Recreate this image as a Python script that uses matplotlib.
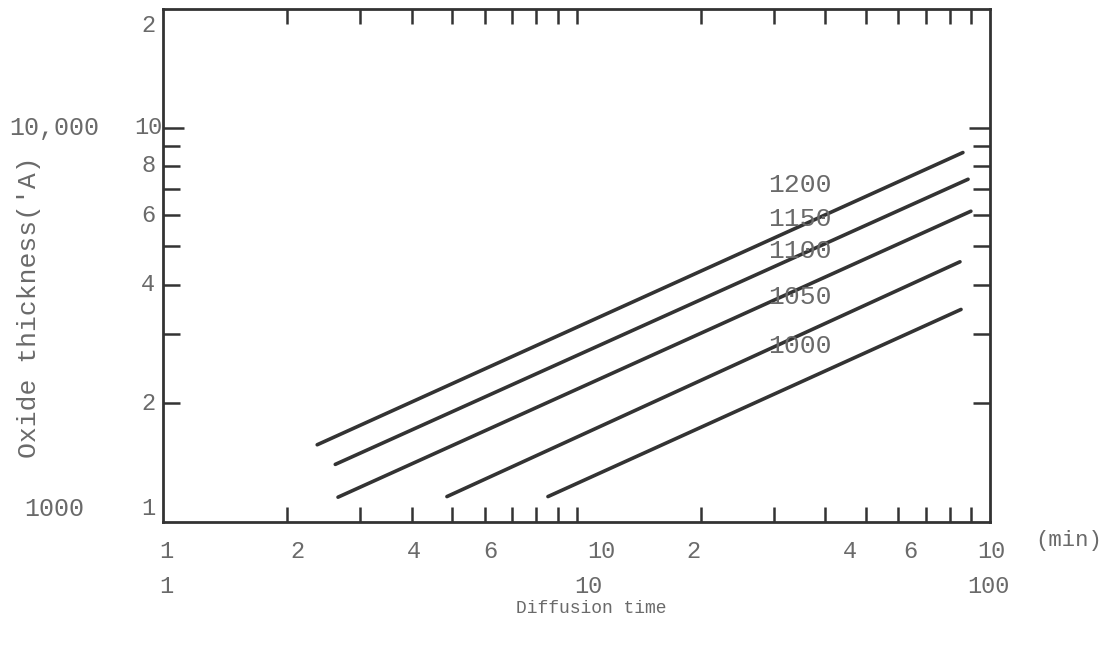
import matplotlib
matplotlib.use("Agg")
import matplotlib.pyplot as plt
from matplotlib.ticker import FixedLocator, NullFormatter
import matplotlib.transforms as mtransforms

# ---------------- data ----------------
temps = ['1200', '1150', '1100', '1050', '1000']          # furnace temperature (C)
time_start = [2.36, 2.61, 2.65, 4.86, 8.53]               # min
time_end = [86.0, 88.5, 89.9, 84.6, 85.1]                 # min
thick_start = [1.57, 1.40, 1.156, 1.16, 1.16]             # x1000 A
thick_end = [8.65, 7.40, 6.14, 4.57, 3.46]                # x1000 A

x_tick_vals = [2, 3, 4, 5, 6, 7, 8, 9, 10, 20, 30, 40, 50, 60, 70, 80, 90]
y_tick_vals = [2, 3, 4, 5, 6, 7, 8, 9]
x_labels_row1 = ['1', '2', '4', '6', '10', '2', '4', '6', '10']
x_labels_row2 = ['1', '10', '100']
y_labels = ['2', '10', '8', '6', '4', '2', '1']
y_labels_outer = ['10,000', '1000']

# ---------------- layout (label placement as typed on the original) -------
x_row1_pos = [1.017, 2.11, 4.05, 6.18, 11.47, 19.13, 45.9, 64.0, 100.6]
x_row2_pos = [1.02, 10.7, 98.9]
y_label_pos = [18.2, 10, 8, 6, 4, 2, 1.08]
y_outer_pos = [10, 1.08]
curve_label_x = 34.6
curve_label_y = [7.15, 5.87, 4.87, 3.71, 2.79]

font = ['Liberation Mono', 'DejaVu Sans Mono']
text_color = '#6a6a6a'
ink = '#333333'

fig = plt.figure(figsize=(11.12, 6.51), dpi=100)
fig.patch.set_facecolor('white')
ax = fig.add_axes([163 / 1112, 129 / 651, 827 / 1112, 513 / 651])
ax.set_xscale('log')
ax.set_yscale('log')
ax.set_xlim(1, 100)
ax.set_ylim(1, 20)

for ts, te, hs, he in zip(time_start, time_end, thick_start, thick_end):
    ax.plot([ts, te], [hs, he], color=ink, lw=2.6, solid_capstyle='round')

for lab, yy in zip(temps, curve_label_y):
    ax.text(curve_label_x, yy, lab, ha='center', va='center', fontsize=19,
            family=font, color=text_color)

# ticks
ax.xaxis.set_major_locator(FixedLocator(x_tick_vals))
ax.xaxis.set_minor_locator(FixedLocator([]))
ax.xaxis.set_major_formatter(NullFormatter())
ax.xaxis.set_minor_formatter(NullFormatter())
ax.yaxis.set_major_locator(FixedLocator([10]))
ax.yaxis.set_minor_locator(FixedLocator(y_tick_vals))
ax.yaxis.set_major_formatter(NullFormatter())
ax.yaxis.set_minor_formatter(NullFormatter())
ax.tick_params(axis='x', which='major', direction='in', length=11, width=1.8,
               color=ink, top=True, bottom=True)
ax.tick_params(axis='y', which='major', direction='in', length=15, width=1.8,
               color=ink, left=True, right=True)
ax.tick_params(axis='y', which='minor', direction='in', length=12, width=1.8,
               color=ink, left=True, right=True)
for sp in ax.spines.values():
    sp.set_linewidth(2.0)
    sp.set_color(ink)

# y tick labels (typed)
ty = mtransforms.blended_transform_factory(ax.transAxes, ax.transData)
for lab, yy in zip(y_labels, y_label_pos):
    ax.text(-0.018, yy, lab, ha='center', va='center', fontsize=17,
            family=font, color=text_color, transform=ty)
for lab, yy in zip(y_labels_outer, y_outer_pos):
    ax.text(-0.131, yy, lab, ha='center', va='center', fontsize=18,
            family=font, color=text_color, transform=ty)

# x tick labels (typed)
tx = mtransforms.blended_transform_factory(ax.transData, ax.transAxes)
for lab, xx in zip(x_labels_row1, x_row1_pos):
    ax.text(xx, -0.058, lab, ha='center', va='center', fontsize=17,
            family=font, color=text_color, transform=tx, clip_on=False)
for lab, xx in zip(x_labels_row2, x_row2_pos):
    ax.text(xx, -0.125, lab, ha='center', va='center', fontsize=17,
            family=font, color=text_color, transform=tx, clip_on=False)
ax.text(1.095, -0.036, '(min)', ha='center', va='center', fontsize=16,
        family=font, color=text_color, transform=ax.transAxes, clip_on=False)

ax.text(0.518, -0.168, 'Diffusion time', ha='center', va='center', fontsize=13,
        family=font, color=text_color, transform=ax.transAxes)
ax.text(-0.162, 0.418, "Oxide thickness('A)", ha='center', va='center',
        rotation=90, fontsize=19, family=font, color=text_color,
        transform=ax.transAxes)

fig.savefig('out.png', dpi=100, facecolor='white')
